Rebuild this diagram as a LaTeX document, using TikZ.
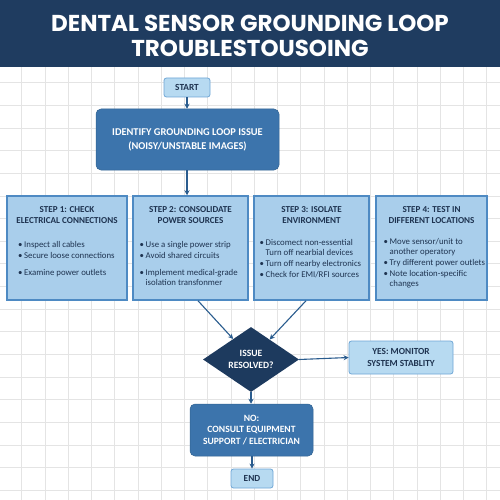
\documentclass[tikz,border=0pt]{standalone}
\usepackage{fontspec}
\setmainfont{Carlito}
\newfontfamily\titlefont{Poppins}
\usetikzlibrary{shapes.geometric,arrows.meta}
\definecolor{titlebg}{HTML}{1F3C60}
\definecolor{gridc}{HTML}{E4E4E4}
\definecolor{lightfill}{HTML}{B7DAF1}
\definecolor{lightborder}{HTML}{6FA6D6}
\definecolor{stepfill}{HTML}{A9CEEB}
\definecolor{stepborder}{HTML}{4E8AC3}
\definecolor{midblue}{HTML}{3C74AC}
\definecolor{navy}{HTML}{1D3A5E}
\definecolor{arrowc}{HTML}{2A5C8E}
\definecolor{textdark}{HTML}{1E3350}
\newcommand{\bl}[1]{\makebox[6pt][l]{•}#1}
\newcommand{\cl}[1]{\hspace*{6pt}#1}
\tikzset{
  lightbox/.style={draw=lightborder, line width=0.8pt, fill=lightfill, rounded corners=2.5pt, inner sep=0pt, text=textdark, font=\bfseries\fontsize{9.3}{10}\selectfont, align=center},
  midbox/.style={fill=midblue, draw=midblue!85!black, line width=0.5pt, rounded corners=5pt, inner sep=0pt, text=white, font=\bfseries\fontsize{10.4}{14}\selectfont, align=center},
  stepbox/.style={draw=stepborder, line width=1.5pt, fill=stepfill, inner sep=0pt},
  steptitle/.style={text=textdark, font=\bfseries\fontsize{9.1}{11}\selectfont, align=center, inner sep=0pt},
  bullets/.style={text=textdark, font=\fontsize{8.8}{10.6}\selectfont, align=left, inner sep=0pt, anchor=north west},
  flow/.style={draw=arrowc, line width=1.1pt, -{Stealth[length=5pt,width=5pt]}},
}
\begin{document}
\begin{tikzpicture}[x=1pt,y=-1pt]
\fill[white] (0,0) rectangle (500,500);
\useasboundingbox (0,0) rectangle (500,500);
\foreach \k in {0,...,20} {\draw[gridc, line width=0.9pt] ({21.7+23.25*\k},67) -- ({21.7+23.25*\k},500);}
\foreach \k in {0,...,18} {\draw[gridc, line width=0.9pt] (0,{82.7+22.65*\k}) -- (500,{82.7+22.65*\k});}
\fill[titlebg] (0,0) rectangle (500,67.5);
\node[anchor=base, text=white, inner sep=0pt, font=\titlefont\bfseries\fontsize{23}{26}\selectfont] (title1) at (250,32) {DENTAL SENSOR GROUNDING LOOP};
\node[anchor=base, text=white, inner sep=0pt, font=\titlefont\bfseries\fontsize{23}{26}\selectfont] (title2) at (250,57) {TROUBLESTOUSOING};

\node[lightbox, minimum width=46pt, minimum height=19pt] (start) at (187,87.5) {START};
\node[midbox, minimum width=183pt, minimum height=61pt] (ident) at (187.5,139.5) {IDENTIFY GROUNDING LOOP ISSUE\\(NOISY/UNSTABLE IMAGES)};

\node[stepbox, minimum width=120pt, minimum height=104pt] (s1) at (67,248) {};
\node[stepbox, minimum width=115pt, minimum height=104pt] (s2) at (190.5,248) {};
\node[stepbox, minimum width=115pt, minimum height=104pt] (s3) at (311.5,248) {};
\node[stepbox, minimum width=111pt, minimum height=104pt] (s4) at (431.5,248) {};

\node[steptitle] (t1) at (67,215.5) {STEP 1: CHECK\\ELECTRICAL CONNECTIONS};
\node[steptitle] (t2) at (190.5,215.5) {STEP 2: CONSOLIDATE\\POWER SOURCES};
\node[steptitle] (t3) at (311.5,215.5) {STEP 3: ISOLATE\\ENVIRONMENT};
\node[steptitle] (t4) at (431.5,215.5) {STEP 4: TEST IN\\DIFFERENT LOCATIONS};

\node[bullets] (b1) at (18,241.5) {\bl{Inspect all cables}\\\bl{Secure loose connections}\\[6pt]\bl{Examine power outlets}};
\node[bullets] (b2) at (139.5,241.5) {\bl{Use a single power strip}\\\bl{Avoid shared circuits}\\[6pt]\bl{Implement medical-grade}\\\cl{isolation transfonmer}};
\node[bullets] (b3) at (259.5,239) {\bl{Discomect non-essential}\\\cl{Turn off nearbial devices}\\\bl{Turn off nearby electronics}\\\bl{Check for EMI/RFI sources}};
\node[bullets] (b4) at (383.5,238) {\bl{Move sensor/unit to}\\\cl{another operatory}\\\bl{Try different power outlets}\\\bl{Note location-specific}\\\cl{changes}};

\node[diamond, fill=navy, minimum width=96pt, minimum height=65pt, inner sep=0pt, text=white, font=\bfseries\fontsize{9.6}{12}\selectfont, align=center] (dec) at (251,359.5) {ISSUE\\RESOLVED?};
\node[lightbox, minimum width=104pt, minimum height=33pt, font=\bfseries\fontsize{9.3}{11.5}\selectfont] (yes) at (401,357.5) {YES: MONITOR\\SYSTEM STABLITY};
\node[midbox, minimum width=123pt, minimum height=52pt, font=\bfseries\fontsize{9.6}{11.5}\selectfont] (no) at (251.5,430) {NO:\\CONSULT EQUIPMENT\\SUPPORT / ELECTRICIAN};
\node[lightbox, minimum width=42pt, minimum height=19pt] (end) at (252,478.5) {END};

\draw[flow] (start.south) -- (ident.north -| start.south);
\draw[flow] (ident.south -| start.south) -- (s2.north -| start.south);
\draw[flow] ([xshift=7.5pt]s2.south) -- (dec.131);
\draw[flow] ([xshift=-5.5pt]s3.south) -- (dec.47);
\draw[flow] (dec.east) -- (yes.west);
\draw[flow] (dec.south) -- (no.north -| dec.south);
\draw[flow] (no.south -| end.north) -- (end.north);
\end{tikzpicture}
\end{document}
